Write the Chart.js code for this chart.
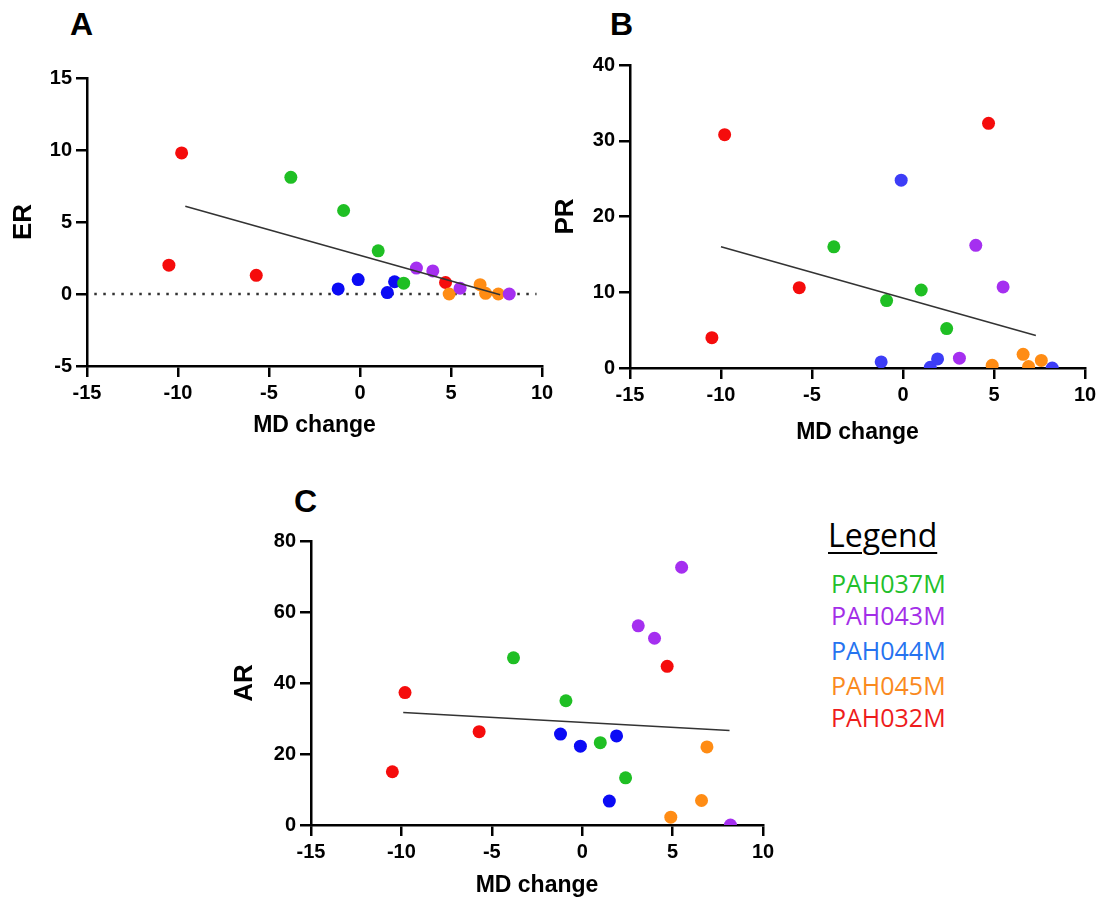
<!DOCTYPE html>
<html>
<head>
<meta charset="utf-8">
<script src="https://cdn.jsdelivr.net/npm/chart.js@4.4.0/dist/chart.umd.min.js"></script>
<style>
  body { margin: 0; background: #fff; width: 1104px; height: 900px; position: relative; overflow: hidden; font-family: "Liberation Sans", Arial, sans-serif; }
  canvas { position: absolute; }
  .letter { position: absolute; font-weight: bold; font-size: 32px; line-height: 32px; color: #000; }
  .legend { position: absolute; left: 831px; font-family: "Open Sans", sans-serif; font-size: 25px; line-height: 25px; white-space: nowrap; }
  .legend-title { position: absolute; left: 828px; top: 519px; font-family: "Open Sans", sans-serif; font-size: 32px; line-height: 32px; text-decoration: underline; text-decoration-thickness: 2px; text-underline-offset: 5px; }
</style>
</head>
<body>
<div class="letter" style="left:70px;top:8px">A</div>
<div class="letter" style="left:610px;top:8px">B</div>
<div class="letter" style="left:294px;top:485px">C</div>

<canvas id="chartA" width="580" height="445" style="left:0;top:0"></canvas>
<canvas id="chartB" width="564" height="460" style="left:540px;top:0"></canvas>
<canvas id="chartC" width="580" height="430" style="left:220px;top:470px"></canvas>

<div class="legend-title">Legend</div>
<div class="legend" style="top:571px;color:#22c02a">PAH037M</div>
<div class="legend" style="top:603px;color:#a32ee8">PAH043M</div>
<div class="legend" style="top:638px;color:#2673f0">PAH044M</div>
<div class="legend" style="top:673px;color:#fa8a1e">PAH045M</div>
<div class="legend" style="top:705px;color:#ee1c1c">PAH032M</div>

<script>
// data

const groups = ["PAH037M", "PAH043M", "PAH044M", "PAH045M", "PAH032M"];

// MD change (x) per subject
const mdGreen  = [-3.8, -0.9, 1.0, 2.4];
const mdPurple = [3.1, 4.0, 5.5, 8.2];
const mdBlue   = [-1.2, -0.1, 1.5, 1.9];
const mdOrange = [4.9, 6.6, 6.9, 7.6];
const mdRed    = [-10.5, -9.8, -5.7, 4.7];

// ER
const erGreen  = [8.1, 5.8, 3.0, 0.75];
const erPurple = [1.8, 1.6, 0.4, 0.0];
const erBlue   = [0.35, 1.0, 0.1, 0.85];
const erOrange = [0.0, 0.65, 0.05, 0.0];
const erRed    = [2.0, 9.8, 1.3, 0.8];

// PR
const prGreen  = [16.0, 8.9, 10.3, 5.2];
const prPurple = [1.3, 16.2, 10.7, 0.0];
const prBlue   = [0.8, 24.8, 0.1, 1.2];
const prOrange = [0.35, 1.8, 0.2, 1.0];
const prRed    = [4.0, 30.8, 10.6, 32.3];

// AR (one PAH045M point not shown)
const arGreen  = [47.1, 35.0, 23.2, 13.3];
const arPurple = [56.1, 52.6, 72.6, 0.0];
const arBlue   = [25.6, 22.2, 6.75, 25.1];
const arOrange = [2.2, 6.9, 22.0, null];
const arRed    = [15.0, 37.3, 26.3, 44.7];

// fitted lines, [x, y] at both ends
const fitER = [[-9.6, 6.1], [7.7, -0.05]];
const fitPR = [[-10.0, 16.0], [7.3, 4.3]];
const fitAR = [[-9.9, 31.7], [8.15, 26.6]];
const zeroLineER = [[-14.6, 0], [9.7, 0]];

const xTicks = { min: -15, max: 10, step: 5 };

const colors = {
    green: "#1fbf24",
    purple: "#a52ff0",
    blue: "#0b0bf5",
    orange: "#ff8c14",
    red: "#f50c0c",
};

const FONT = "'Liberation Sans', Arial, sans-serif";

function pts(xs, ys) {
    const out = [];
    xs.forEach((x, i) => {
        if (ys[i] !== null) out.push({ x: x, y: ys[i] });
    });
    return out;
}

function dots(xs, ys, color) {
    return {
        data: pts(xs, ys),
        backgroundColor: color,
        borderWidth: 0,
        pointRadius: 6.5,
        pointHoverRadius: 6.5,
        order: 1,
    };
}

function line(ends, extra) {
    return Object.assign({
        type: "line",
        data: ends.map(e => ({ x: e[0], y: e[1] })),
        showLine: true,
        borderColor: "#333",
        borderWidth: 1.6,
        pointRadius: 0,
        fill: false,
        order: 0,
    }, extra || {});
}

function scales(y, box) {
    return {
        x: {
            type: "linear",
            min: xTicks.min,
            max: xTicks.max,
            ticks: { stepSize: xTicks.step, color: "#000", font: { family: FONT, size: 20, weight: "bold" }, padding: 4, maxRotation: 0 },
            grid: { drawOnChartArea: false, drawTicks: true, tickLength: 11, lineWidth: 2.5, tickWidth: 2.5, tickColor: "#000" },
            border: { display: true, color: "#000", width: 2.5 },
            title: { display: true, text: "MD change", color: "#000", font: { family: FONT, size: 23, weight: "bold" }, padding: { top: 0, bottom: box.xTitlePad } },
            afterFit: s => { s.height = box.xHeight; },
        },
        y: {
            type: "linear",
            min: y.min,
            max: y.max,
            ticks: { stepSize: y.step, color: "#000", font: { family: FONT, size: 20, weight: "bold" }, padding: 4 },
            grid: { drawOnChartArea: false, drawTicks: true, tickLength: 11, lineWidth: 2.5, tickWidth: 2.5, tickColor: "#000" },
            border: { display: true, color: "#000", width: 2.5 },
            title: { display: true, text: y.title, color: "#000", font: { family: FONT, size: 26, weight: "bold" }, padding: { top: box.yTitlePad, bottom: 0 } },
            afterFit: s => { s.width = box.yWidth; },
        },
    };
}

function drawPanel(id, datasets, y, box) {
    new Chart(document.getElementById(id), {
        type: "scatter",
        data: { datasets: datasets },
        options: {
            responsive: false,
            animation: false,
            devicePixelRatio: 1,
            layout: { padding: { left: 0, top: box.top, right: box.right, bottom: 0 } },
            plugins: { legend: { display: false }, tooltip: { enabled: false } },
            scales: scales(y, box),
        },
    });
}

// A: ER
drawPanel("chartA", [
    line(fitER),
    dots(mdGreen, erGreen, colors.green),
    dots(mdPurple, erPurple, colors.purple),
    dots(mdBlue, erBlue, colors.blue),
    dots(mdOrange, erOrange, colors.orange),
    dots(mdRed, erRed, colors.red),
    line(zeroLineER, { borderWidth: 2.5, borderDash: [2.5, 6.5], borderCapStyle: "butt", order: 2 }),
], { min: -5, max: 15, step: 5, title: "ER" },
   { top: 78, right: 38, yWidth: 87, xHeight: 79, xTitlePad: 6, yTitlePad: 8 });

// B: PR (the last PAH043M point is drawn blue in the figure)
const purpleB = dots(mdPurple, prPurple, colors.purple);
purpleB.backgroundColor = [colors.purple, colors.purple, colors.purple, "#3d3df7"];
drawPanel("chartB", [
    line(fitPR),
    dots(mdGreen, prGreen, colors.green),
    purpleB,
    dots(mdBlue, prBlue, "#3d3df7"),
    dots(mdOrange, prOrange, colors.orange),
    dots(mdRed, prRed, colors.red),
], { min: 0, max: 40, step: 10, title: "PR" },
   { top: 65, right: 19, yWidth: 90, xHeight: 92, xTitlePad: 14, yTitlePad: 10 });

// C: AR
drawPanel("chartC", [
    line(fitAR),
    dots(mdGreen, arGreen, colors.green),
    dots(mdPurple, arPurple, colors.purple),
    dots(mdBlue, arBlue, colors.blue),
    dots(mdOrange, arOrange, colors.orange),
    dots(mdRed, arRed, colors.red),
], { min: 0, max: 80, step: 20, title: "AR" },
   { top: 71, right: 37, yWidth: 91, xHeight: 75, xTitlePad: 1, yTitlePad: 9 });
</script>
</body>
</html>
